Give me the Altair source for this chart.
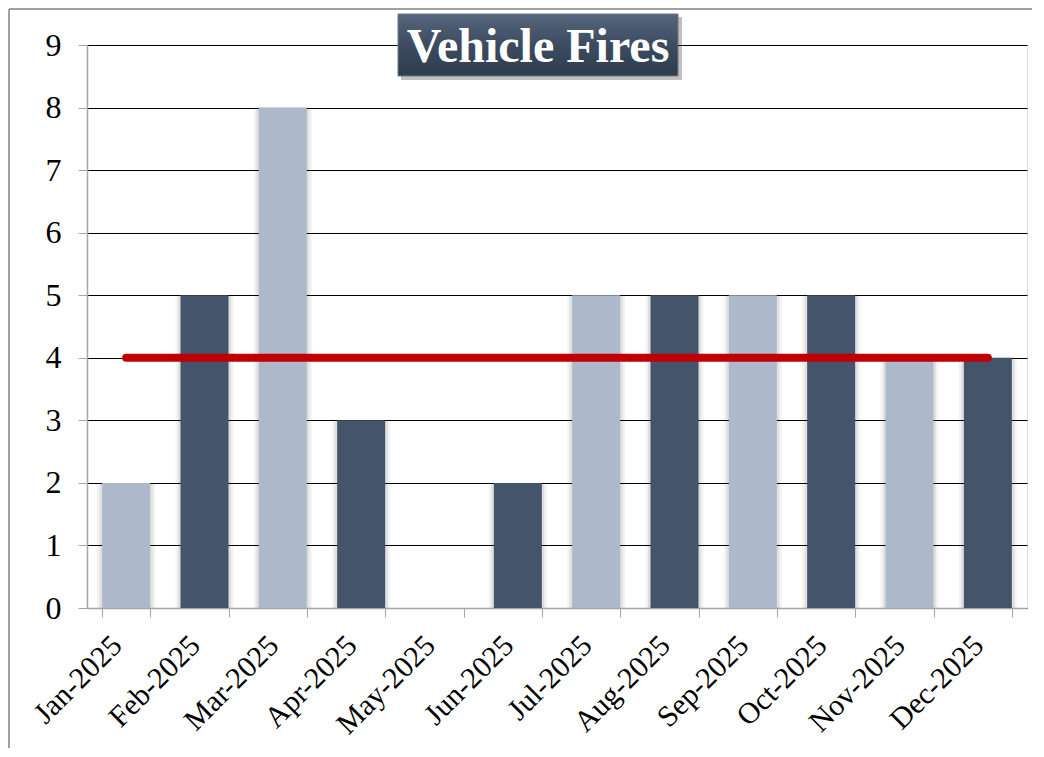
import altair as alt
import pandas as pd

months = ["Jan-2025", "Feb-2025", "Mar-2025", "Apr-2025", "May-2025", "Jun-2025",
          "Jul-2025", "Aug-2025", "Sep-2025", "Oct-2025", "Nov-2025", "Dec-2025"]
fires = [2, 5, 8, 3, 0, 2, 5, 5, 5, 5, 4, 4]
shade = ["light", "dark", "light", "dark", "light", "dark",
         "light", "dark", "light", "dark", "light", "dark"]
title_text = "Vehicle Fires"

df = pd.DataFrame({"month": months, "fires": fires, "shade": shade})

W, H = 940, 563
FONT = "Liberation Serif"

xscale = alt.Scale(domain=months, paddingInner=0.385, paddingOuter=0.1925)
yscale = alt.Scale(domain=[0, 9], nice=False)

x_enc = alt.X("month:N", sort=months, scale=xscale, title=None,
              axis=alt.Axis(labelAngle=-45, labelAlign="right", labelBaseline="top",
                            labelFont=FONT, labelFontSize=30, labelColor="black",
                            labelPadding=13, labelOffset=-20, tickBand="extent", tickSize=9,
                            tickColor="#a6a6a6", domainColor="#a6a6a6", domainWidth=1.5,
                            grid=False))
y_enc = alt.Y("fires:Q", scale=yscale, title=None,
              axis=alt.Axis(values=list(range(10)), format="d", labelFont=FONT,
                            labelFontSize=32, labelColor="black", labelPadding=17,
                            tickSize=9, tickColor="#a6a6a6", domainColor="#a6a6a6",
                            domainWidth=1.5, gridColor="black", gridWidth=1.2, grid=True))

base = alt.Chart(df)

shadow1 = base.mark_bar(size=58, color="#000000", opacity=0.05).encode(
    x=x_enc, y=y_enc)
shadow2 = base.mark_bar(size=53, color="#000000", opacity=0.08).encode(
    x=alt.X("month:N", sort=months, scale=xscale), y=alt.Y("fires:Q", scale=yscale))

bars = base.mark_bar(size=48).encode(
    x=alt.X("month:N", sort=months, scale=xscale),
    y=alt.Y("fires:Q", scale=yscale),
    color=alt.Color("shade:N", scale=alt.Scale(domain=["light", "dark"],
                                               range=["#adb9ca", "#44546a"]), legend=None),
)

avg_line = base.transform_joinaggregate(avg="mean(fires)").mark_line(
    color="#c00000", strokeWidth=8, strokeCap="round").encode(
    x=alt.X("month:N", sort=months, scale=xscale),
    y=alt.Y("avg:Q", scale=yscale),
)

one = alt.Chart(pd.DataFrame({"t": [title_text]}))

box_shadow = one.mark_rect(color="#000000", opacity=0.25).encode(
    x=alt.value(314), x2=alt.value(595), y=alt.value(-28), y2=alt.value(35))
box = one.mark_rect(
    color=alt.Gradient(gradient="linear", x1=0, y1=0, x2=0, y2=1,
                       stops=[alt.GradientStop(color="#56667c", offset=0),
                              alt.GradientStop(color="#3c4b60", offset=0.5),
                              alt.GradientStop(color="#2f3c4e", offset=1)]),
    stroke="#6b7a8f", strokeWidth=1).encode(
    x=alt.value(311), x2=alt.value(591), y=alt.value(-31), y2=alt.value(31))
title = one.mark_text(font=FONT, fontSize=48, fontWeight="bold", color="white",
                      align="center", baseline="middle").encode(
    x=alt.value(451), y=alt.value(3), text="t:N")

border_top = one.mark_rule(color="#a0a0a0", strokeWidth=2).encode(
    x=alt.value(-78), x2=alt.value(960), y=alt.value(-36))
border_left = one.mark_rule(color="#a0a0a0", strokeWidth=2).encode(
    x=alt.value(-78), y=alt.value(-36), y2=alt.value(703))

chart = alt.layer(
    shadow1, shadow2, bars, avg_line, box_shadow, box, title, border_top, border_left
).properties(
    width=W, height=H,
    autosize=alt.AutoSizeParams(type="none"),
    padding={"left": 79, "top": 37, "right": 5, "bottom": 140},
).configure_view(strokeWidth=0).configure(background="white")

chart.save("out.html", embed_options={"renderer": "svg", "actions": False})
